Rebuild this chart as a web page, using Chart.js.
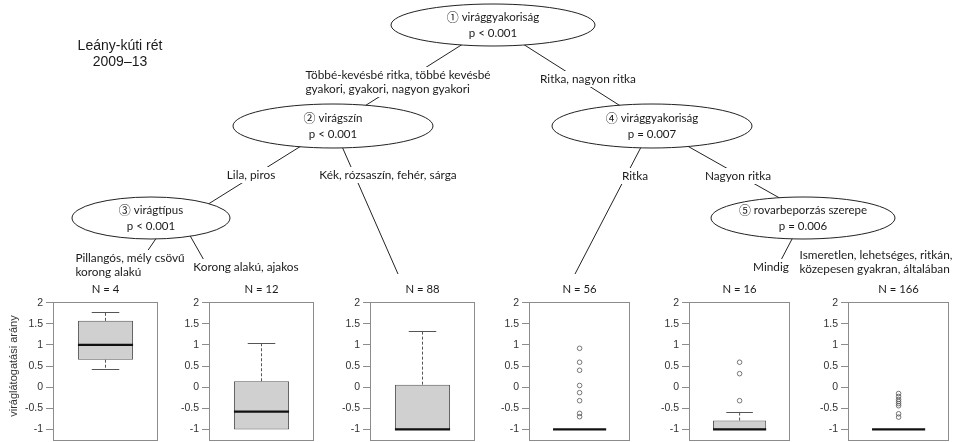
<!DOCTYPE html>
<html><head><meta charset="utf-8">
<script src="https://cdn.jsdelivr.net/npm/chart.js@4.4.1/dist/chart.umd.min.js"></script>
<style>
html,body{margin:0;padding:0;background:#fff;}
#wrap{position:relative;width:957px;height:442px;overflow:hidden;background:#fff;}
#wrap canvas{position:absolute;}
</style></head><body><div id="wrap"></div>
<script>
// ---------- data ----------
const leafNames   = ['N = 4','N = 12','N = 88','N = 56','N = 16','N = 166'];
const whiskerLow  = [0.42, -1, -1, -1, -1, -1];
const q1          = [0.65, -1, -1, -1, -1, -1];
const median      = [1.00, -0.58, -1, -1, -1, -1];
const q3          = [1.57, 0.14, 0.06, -1, -0.79, -1];
const whiskerHigh = [1.78, 1.04, 1.32, -1, -0.60, -1];
const outliers    = [[], [], [],
  [0.92, 0.59, 0.40, 0.04, -0.13, -0.32, -0.62, -0.70],
  [0.59, 0.32, -0.32],
  [-0.15, -0.22, -0.29, -0.34, -0.39, -0.44, -0.63, -0.71]];
const yTicks = [-1, -0.5, 0, 0.5, 1, 1.5, 2];
const yTitle = 'viráglátogatási arány';
const titleLines = ['Leány-kúti rét', '2009–13'];
const nodeLabels = ['① virággyakoriság','② virágszín','③ virágtípus','④ virággyakoriság','⑤ rovarbeporzás szerepe'];
const nodePValues = ['p < 0.001','p < 0.001','p < 0.001','p = 0.007','p = 0.006'];
const edgeLabels = [
  ['Többé-kevésbé ritka, többé kevésbé','gyakori, gyakori, nagyon gyakori'],
  ['Ritka, nagyon ritka'],
  ['Lila, piros'],
  ['Kék, rózsaszín, fehér, sárga'],
  ['Ritka'],
  ['Nagyon ritka'],
  ['Pillangós, mély csövű','korong alakú'],
  ['Korong alakú, ajakos'],
  ['Mindig'],
  ['Ismeretlen, lehetséges, ritkán,','közepesen gyakran, általában']
];

// ---------- layout (positions only) ----------
const W = 957, H = 442;
const titlePos = {x:120, y:46, lh:16};
const nodeGeom = [
  {cx:493, cy:25,  rx:102, ry:21},
  {cx:333, cy:126, rx:100, ry:22},
  {cx:151, cy:218, rx:79,  ry:21},
  {cx:652, cy:126, rx:100, ry:22},
  {cx:803, cy:218, rx:92,  ry:21}
];
const edgeGeom = [
  [493,25,333,126],[493,25,652,126],
  [333,126,186,218],[333,126,398,274],
  [652,126,575,274],[652,126,815,218],
  [170,218,140,262],[180,218,205,262],
  [803,218,780,262]
];
const edgeLabelPos = [
  {x:398,y:75},{x:588,y:79},{x:251,y:175},{x:388,y:175},{x:635,y:176},
  {x:738,y:176},{x:130,y:258},{x:246,y:267},{x:771,y:267},{x:876,y:255}
];
const frameLeft = [53, 209, 370, 529, 689, 848];
const frameW = 105;
const frameTop = 302, frameBottom = 441;
const canvasTop = 276, padBottom = 12;
const treeFont = '"Lato", "DejaVu Sans", sans-serif';
const symFont = '"Noto Sans CJK JP", "DejaVu Sans", sans-serif';
const tickFont = '"Liberation Sans", Arial, sans-serif';
const edgeFontSize = 11.8, nodeFontSize = 11.5, leafFontSize = 11.3;

const wrap = document.getElementById('wrap');
function makeCanvas(left, top, w, h){
  const d = document.createElement('div');
  d.style.position='absolute'; d.style.left=left+'px'; d.style.top=top+'px';
  d.style.width=w+'px'; d.style.height=h+'px';
  const c = document.createElement('canvas');
  c.style.left='0px'; c.style.top='0px';
  c.style.width=w+'px'; c.style.height=h+'px';
  c.width = w; c.height = h;
  d.appendChild(c); wrap.appendChild(d);
  return c;
}

// ---------- tree overlay ----------
const treePlugin = {
  id:'tree',
  afterDraw(chart){
    const ctx = chart.ctx, sx = chart.scales.x, sy = chart.scales.y;
    const X = v => sx.getPixelForValue(v), Y = v => sy.getPixelForValue(v);
    ctx.save();
    ctx.fillStyle = '#1a1a1a'; ctx.textAlign='center'; ctx.textBaseline='middle';
    ctx.font = '14px ' + tickFont;
    titleLines.forEach((t,k)=>ctx.fillText(t, X(titlePos.x), Y(titlePos.y + k*titlePos.lh)));
    // edges
    ctx.strokeStyle = '#222'; ctx.lineWidth = 1;
    edgeGeom.forEach(e=>{ ctx.beginPath(); ctx.moveTo(X(e[0]),Y(e[1])); ctx.lineTo(X(e[2]),Y(e[3])); ctx.stroke(); });
    // edge labels
    ctx.font = edgeFontSize + 'px ' + treeFont; ctx.textAlign='left';
    const lh = 14;
    edgeLabels.forEach((lines,k)=>{
      const p = edgeLabelPos[k];
      const w = Math.max(...lines.map(l=>ctx.measureText(l).width));
      const left = X(p.x) - w/2, top = Y(p.y) - 7;
      ctx.fillStyle = '#fff'; ctx.fillRect(left-2, top-1, w+4, lines.length*lh+2);
      ctx.fillStyle = '#1a1a1a';
      lines.forEach((l,j)=>ctx.fillText(l, left, Y(p.y) + j*lh));
    });
    // nodes
    nodeGeom.forEach((n,k)=>{
      ctx.beginPath();
      ctx.ellipse(X(n.cx), Y(n.cy), n.rx, n.ry, 0, 0, Math.PI*2);
      ctx.fillStyle = '#fff'; ctx.fill();
      ctx.strokeStyle = '#222'; ctx.lineWidth = 1; ctx.stroke();
      ctx.fillStyle = '#1a1a1a';
      // first line: circled number (larger glyph) + variable name
      const label = nodeLabels[k];
      const sym = label.charAt(0), rest = label.slice(1);
      ctx.font = '12px ' + symFont; const ws = ctx.measureText(sym).width;
      ctx.font = nodeFontSize + 'px ' + treeFont; const wr = ctx.measureText(rest).width;
      const x0 = X(n.cx) - (ws + wr)/2, y1 = Y(n.cy) - 8;
      ctx.textAlign = 'left';
      ctx.font = '12px ' + symFont; ctx.fillText(sym, x0, y1);
      ctx.font = nodeFontSize + 'px ' + treeFont; ctx.fillText(rest, x0 + ws, y1);
      ctx.textAlign = 'center';
      ctx.fillText(nodePValues[k], X(n.cx), Y(n.cy) + 8);
    });
    ctx.restore();
  }
};
new Chart(makeCanvas(0,0,W,H), {
  type:'scatter',
  data:{datasets:[]},
  options:{
    responsive:false, animation:false, events:[],
    layout:{padding:0},
    plugins:{legend:{display:false}, tooltip:{enabled:false}},
    scales:{
      x:{type:'linear', min:0, max:W, display:false},
      y:{type:'linear', min:0, max:H, reverse:true, display:false}
    }
  },
  plugins:[treePlugin]
});

// ---------- leaf boxplots ----------
const boxPlugin = {
  id:'boxparts',
  beforeDatasetsDraw(chart, args, opts){
    const i = opts.leaf, ctx = chart.ctx, ys = chart.scales.y;
    const bar = chart.getDatasetMeta(0).data[0];
    const x = bar.x, bw = bar.width, cap = bw/2;
    ctx.save();
    ctx.strokeStyle = '#555'; ctx.lineWidth = 1;
    const seg = (x1,y1,x2,y2)=>{ctx.beginPath();ctx.moveTo(x1,y1);ctx.lineTo(x2,y2);ctx.stroke();};
    ctx.setLineDash([3,2]);
    if (whiskerHigh[i] > q3[i]) seg(x, ys.getPixelForValue(q3[i]), x, ys.getPixelForValue(whiskerHigh[i]));
    if (whiskerLow[i] < q1[i]) seg(x, ys.getPixelForValue(q1[i]), x, ys.getPixelForValue(whiskerLow[i]));
    ctx.setLineDash([]);
    if (whiskerHigh[i] > q3[i]) { const yy = Math.round(ys.getPixelForValue(whiskerHigh[i]))+0.5; seg(x-cap/2, yy, x+cap/2, yy); }
    if (whiskerLow[i] < q1[i]) { const yy = Math.round(ys.getPixelForValue(whiskerLow[i]))+0.5; seg(x-cap/2, yy, x+cap/2, yy); }
    ctx.restore();
  },
  afterDatasetsDraw(chart, args, opts){
    const i = opts.leaf, ctx = chart.ctx, ys = chart.scales.y;
    const bar = chart.getDatasetMeta(0).data[0];
    const x = bar.x, bw = bar.width;
    ctx.save();
    ctx.strokeStyle = '#111'; ctx.lineWidth = 2.2;
    const ym = ys.getPixelForValue(median[i]);
    ctx.beginPath(); ctx.moveTo(x-bw/2, ym); ctx.lineTo(x+bw/2, ym); ctx.stroke();
    ctx.restore();
  },
  afterDraw(chart, args, opts){
    const i = opts.leaf, ctx = chart.ctx, a = chart.chartArea, ys = chart.scales.y;
    ctx.save();
    ctx.strokeStyle = '#8c8c8c'; ctx.lineWidth = 1;
    ctx.strokeRect(Math.round(a.left)+0.5, Math.round(a.top)+0.5, Math.round(a.right-a.left)-1, Math.round(a.bottom-a.top)-1);
    ctx.fillStyle = '#1a1a1a'; ctx.textAlign='center'; ctx.textBaseline='middle';
    ctx.font = leafFontSize + 'px ' + treeFont;
    ctx.fillText(leafNames[i], (a.left+a.right)/2, a.top - 13);
    if (i === 0) {
      ctx.font = '11px ' + tickFont; ctx.fillStyle = '#333';
      ctx.translate(14, ys.getPixelForValue(0.5));
      ctx.rotate(-Math.PI/2);
      ctx.fillText(yTitle, 0, 0);
    }
    ctx.restore();
  }
};

leafNames.forEach((name, i)=>{
  const axisW = i === 0 ? frameLeft[0] : 34;
  const left = frameLeft[i] - axisW;
  const w = axisW + frameW + 1;
  const h = frameBottom + padBottom - canvasTop;
  new Chart(makeCanvas(left, canvasTop, w, h), {
    type:'bar',
    data:{
      labels:[name],
      datasets:[
        {type:'bar', data:[[q1[i], q3[i]]], backgroundColor:'#d0d0d0', borderColor:'#555',
         borderWidth:1, borderSkipped:false, barPercentage:0.525, categoryPercentage:1, order:2},
        {type:'scatter', data:outliers[i].map(v=>({x:name, y:v})), pointStyle:'circle',
         pointRadius:2.3, pointBorderWidth:0.8, pointBorderColor:'#555', pointBackgroundColor:'rgba(0,0,0,0)', order:1}
      ]
    },
    options:{
      responsive:false, animation:false, events:[],
      layout:{padding:{top:frameTop-canvasTop, bottom:padBottom, left:0, right:1}},
      plugins:{legend:{display:false}, tooltip:{enabled:false}, boxparts:{leaf:i}},
      scales:{
        x:{type:'category', display:false, offset:true},
        y:{type:'linear', min:-1.275, max:2.017,
           afterFit(s){ s.width = axisW; },
           afterBuildTicks(s){ s.ticks = yTicks.map(v=>({value:v})); },
           border:{display:false},
           grid:{drawOnChartArea:false, drawTicks:true, tickLength:7, color:'#8c8c8c'},
           ticks:{padding:3, color:'#333', font:{family:tickFont, size:10.5},
                  callback:(v)=>String(v)}
        }
      }
    },
    plugins:[boxPlugin]
  });
});
</script>
</body></html>
